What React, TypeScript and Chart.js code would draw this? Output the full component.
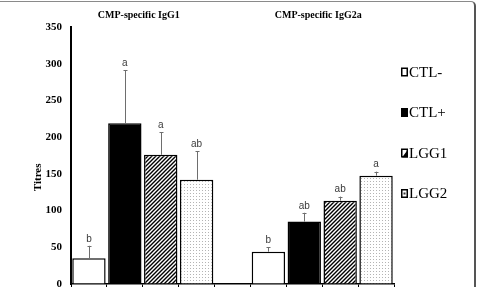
import { useEffect, useRef } from "react";
import { Chart, registerables } from "chart.js";

Chart.register(...registerables);

// Antibody titres per treatment, in two isotype groups
const groups = ["CMP-specific IgG1", "CMP-specific IgG2a"];
const treatments = ["CTL-", "CTL+", "LGG1", "LGG2"];
const igg1Titres = [35, 219, 176, 142];
const igg1Errors = [17, 72, 31, 39];
const igg1Letters = ["b", "a", "a", "ab"];
const igg2aTitres = [44, 85, 113.5, 147.5];
const igg2aErrors = [6, 12, 5.5, 5.5];
const igg2aLetters = ["b", "ab", "ab", "a"];
const yMax = 350;
const yStep = 50;
const yTitle = "Titres";

const titresByGroup = [igg1Titres, igg2aTitres];
const errorsByGroup = [igg1Errors, igg2aErrors];
const lettersByGroup = [igg1Letters, igg2aLetters];

// one empty slot separates the two groups on the category axis
const slotsPerGroup = treatments.length + 1;
const slotCount = groups.length * slotsPerGroup - 1;
const slotOf = (g: number, t: number) => g * slotsPerGroup + t;

const SERIF = '"Liberation Serif", "Times New Roman", serif';
const SANS = '"Liberation Sans", Arial, sans-serif';

function makeHatch(): CanvasPattern | string {
  const c = document.createElement("canvas");
  c.width = 4;
  c.height = 4;
  const x = c.getContext("2d");
  if (!x) return "#777";
  x.fillStyle = "#fff";
  x.fillRect(0, 0, 4, 4);
  x.strokeStyle = "#000";
  x.lineWidth = 1.4;
  x.beginPath();
  x.moveTo(-1, 5);
  x.lineTo(5, -1);
  x.moveTo(-1, 1);
  x.lineTo(1, -1);
  x.moveTo(3, 5);
  x.lineTo(5, 3);
  x.stroke();
  return x.createPattern(c, "repeat") || "#777";
}

function makeDots(): CanvasPattern | string {
  const c = document.createElement("canvas");
  c.width = 3;
  c.height = 3;
  const x = c.getContext("2d");
  if (!x) return "#eee";
  x.fillStyle = "#fff";
  x.fillRect(0, 0, 3, 3);
  x.fillStyle = "#b4b4b4";
  x.fillRect(1, 1, 1, 1);
  return x.createPattern(c, "repeat") || "#eee";
}

const iconKinds = ["open", "solid", "hatch", "dot"];

// error bars (upward only) with significance letters above
const errorBarPlugin = {
  id: "errorBars",
  afterDatasetsDraw(chart: any) {
    const { ctx } = chart;
    const y = chart.scales.y;
    ctx.save();
    treatments.forEach((_, t) => {
      const meta = chart.getDatasetMeta(t);
      groups.forEach((__, g) => {
        const bar = meta.data[slotOf(g, t)];
        if (!bar) return;
        const v = titresByGroup[g][t];
        const top = y.getPixelForValue(v + errorsByGroup[g][t]);
        const base = y.getPixelForValue(v);
        const bx = Math.round(bar.x) + 0.5;
        ctx.strokeStyle = "#6e6e6e";
        ctx.lineWidth = 1;
        ctx.beginPath();
        ctx.moveTo(bx, base);
        ctx.lineTo(bx, top);
        ctx.moveTo(bx - 2, Math.round(top) + 0.5);
        ctx.lineTo(bx + 2, Math.round(top) + 0.5);
        ctx.stroke();
        ctx.fillStyle = "#3a3a3a";
        ctx.font = `10px ${SANS}`;
        ctx.textAlign = "center";
        ctx.textBaseline = "bottom";
        ctx.fillText(lettersByGroup[g][t], bar.x, top - 2);
      });
    });
    ctx.restore();
  },
};

// group headings, rotated axis title and the side key
const annotationPlugin = {
  id: "annotations",
  afterDraw(chart: any) {
    const { ctx, chartArea } = chart;
    const xs = chart.scales.x;
    ctx.save();
    ctx.fillStyle = "#000";
    ctx.font = `bold 10px ${SERIF}`;
    ctx.textAlign = "center";
    ctx.textBaseline = "middle";
    groups.forEach((name, g) => {
      const a = xs.getPixelForValue(slotOf(g, 0));
      const b = xs.getPixelForValue(slotOf(g, treatments.length - 1));
      ctx.fillText(name, (a + b) / 2 - 4, chartArea.top - 12);
    });

    ctx.save();
    ctx.translate(chartArea.left - 33, chartArea.top + (chartArea.bottom - chartArea.top) * 0.585);
    ctx.rotate(-Math.PI / 2);
    ctx.font = `bold 11px ${SERIF}`;
    ctx.fillText(yTitle, 0, 0);
    ctx.restore();

    const x0 = chartArea.right + 7;
    treatments.forEach((label, i) => {
      const cy = chartArea.top + 45 + i * 40.5;
      const ix = x0;
      const iy = cy - 4.5;
      const w = 7;
      const h = 9;
      const kind = iconKinds[i];
      ctx.fillStyle = kind === "solid" ? "#000" : "#fff";
      ctx.fillRect(ix, iy, w, h);
      if (kind === "hatch") {
        ctx.fillStyle = "#000";
        ctx.beginPath();
        ctx.moveTo(ix + 1, iy + h);
        ctx.lineTo(ix + w, iy + h);
        ctx.lineTo(ix + w, iy + 1);
        ctx.closePath();
        ctx.fill();
      }
      if (kind === "dot") {
        ctx.fillStyle = "#333";
        ctx.fillRect(ix + w / 2 - 1, iy + h / 2 - 1, 2, 2);
      }
      ctx.strokeStyle = "#000";
      ctx.lineWidth = 1.5;
      ctx.strokeRect(ix + 0.75, iy + 0.75, w - 1.5, h - 1.5);
      ctx.fillStyle = "#000";
      ctx.font = `15px ${SERIF}`;
      ctx.textAlign = "left";
      ctx.textBaseline = "middle";
      ctx.fillText(label, ix + w + 1, cy + 1);
    });
    ctx.restore();
  },
};

export default function App() {
  const ref = useRef<HTMLCanvasElement | null>(null);

  useEffect(() => {
    if (!ref.current) return;
    const fills = ["#ffffff", "#000000", makeHatch(), makeDots()];
    const labels = Array.from({ length: slotCount }, (_, s) => {
      const g = Math.floor(s / slotsPerGroup);
      const t = s % slotsPerGroup;
      return t < treatments.length ? `${groups[g]} ${treatments[t]}` : "";
    });
    const datasets = treatments.map((name, t) => {
      const data: (number | null)[] = Array(slotCount).fill(null);
      groups.forEach((_, g) => {
        data[slotOf(g, t)] = titresByGroup[g][t];
      });
      return {
        label: name,
        data,
        backgroundColor: fills[t] as any,
        borderColor: "#000",
        borderWidth: 1.5,
        grouped: false,
        categoryPercentage: 1,
        barPercentage: 0.93,
      };
    });

    const chart = new Chart(ref.current, {
      type: "bar",
      data: { labels, datasets },
      options: {
        animation: false,
        responsive: false,
        devicePixelRatio: 1,
        layout: { padding: { top: 27, right: 89, left: 0, bottom: 0 } },
        plugins: { legend: { display: false }, tooltip: { enabled: false } },
        scales: {
          x: {
            offset: true,
            grid: {
              display: true,
              offset: true,
              drawOnChartArea: false,
              drawTicks: true,
              tickLength: 6,
              color: "#000",
            },
            border: { display: true, color: "#000", width: 1.5 },
            ticks: { display: false },
            afterFit(scale: any) {
              scale.height = 3;
            },
          },
          y: {
            min: 0,
            max: yMax,
            grid: { display: true, drawOnChartArea: false, drawTicks: false },
            border: { display: true, color: "#000", width: 2 },
            ticks: {
              stepSize: yStep,
              padding: 9,
              color: "#000",
              font: { family: SERIF, size: 11, weight: "bold" },
            },
            afterFit(scale: any) {
              scale.width = 71;
              // the bottom "0" may run to the canvas edge
              scale.paddingTop = 0;
              scale.paddingBottom = 0;
            },
          },
        },
      },
      plugins: [errorBarPlugin, annotationPlugin],
    });
    return () => chart.destroy();
  }, []);

  return (
    <div
      style={{
        position: "fixed",
        left: 0,
        top: 0,
        width: 483,
        height: 287,
        background: "#fff",
        overflow: "hidden",
      }}
    >
      <canvas ref={ref} width={483} height={287} style={{ position: "absolute", left: 0, top: 0 }} />
      <div
        style={{
          position: "absolute",
          left: -4,
          top: 1,
          width: 480,
          height: 300,
          boxSizing: "border-box",
          borderTop: "1.5px solid #8a8a8a",
          borderRight: "2px solid #555",
          borderTopRightRadius: 5,
          pointerEvents: "none",
        }}
      />
    </div>
  );
}
